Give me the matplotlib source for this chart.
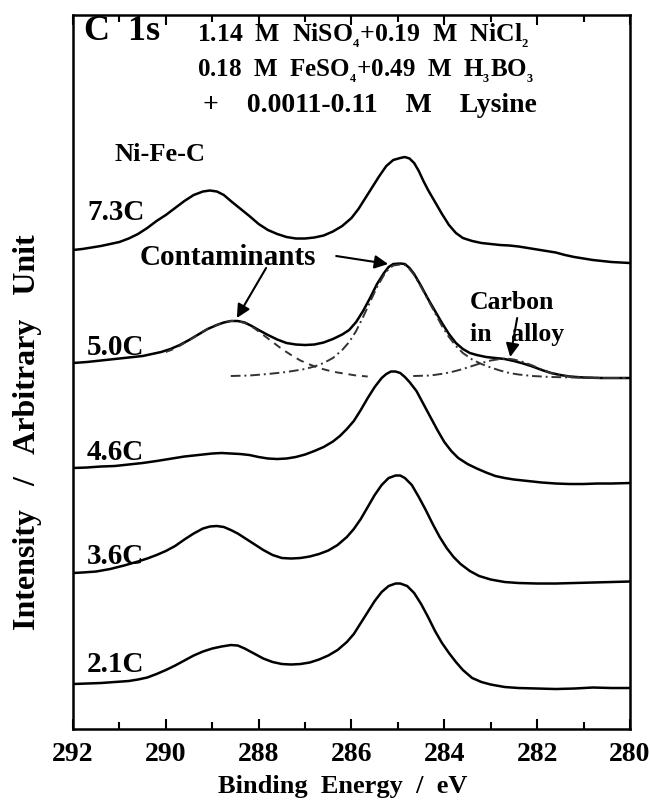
import numpy as np
import matplotlib
matplotlib.use("Agg")
import matplotlib.pyplot as plt
from matplotlib.ticker import MultipleLocator

plt.rcParams['font.family'] = ['Liberation Serif', 'DejaVu Serif']
plt.rcParams['font.weight'] = 'bold'
plt.rcParams['mathtext.fontset'] = 'custom'
plt.rcParams['mathtext.rm'] = 'Liberation Serif:bold'
plt.rcParams['mathtext.it'] = 'Liberation Serif:bold'
plt.rcParams['mathtext.bf'] = 'Liberation Serif:bold'

# C 1s spectra, stacked with vertical offsets (arbitrary units)
be_73 = [292.0, 291.8, 291.6, 291.4, 291.2, 291.0, 290.8, 290.6, 290.4, 290.2, 290.0,
         289.8, 289.6, 289.4, 289.2, 289.05, 288.9, 288.75, 288.6, 288.4, 288.2, 288.0,
         287.8, 287.6, 287.4, 287.2, 287.0, 286.8, 286.6, 286.4, 286.2, 286.0, 285.85,
         285.7, 285.55, 285.4, 285.25, 285.1, 284.95, 284.85, 284.75, 284.65, 284.55,
         284.45, 284.35, 284.2, 284.05, 283.9, 283.75, 283.6, 283.4, 283.2, 283.0, 282.8,
         282.6, 282.4, 282.2, 282.0, 281.8, 281.6, 281.4, 281.2, 281.0, 280.8, 280.6,
         280.4, 280.2, 280.0]
int_73 = [479, 480, 481.5, 483, 485, 487, 490.5, 495, 501, 508, 514,
          521, 528, 534, 537.5, 538.5, 537.5, 534, 528, 520.5, 513, 505,
          499, 495, 492, 490.5, 490.5, 491.5, 493.5, 497.5, 503, 511, 520,
          531, 542, 553, 563, 569, 571, 572, 570.5, 566, 558,
          548, 539, 527, 515, 504, 496, 491, 488, 486, 485, 484,
          483.5, 482.5, 481, 479.5, 478, 476.5, 474, 472, 470.5, 469, 468,
          467, 466.5, 466]

be_50 = [292.0, 291.7, 291.4, 291.1, 290.8, 290.5, 290.3, 290.1, 289.9, 289.7, 289.5,
         289.3, 289.1, 288.9, 288.75, 288.6, 288.45, 288.3, 288.15, 288.0, 287.8, 287.6,
         287.4, 287.2, 287.0, 286.8, 286.6, 286.4, 286.2, 286.05, 285.9, 285.75, 285.6,
         285.45, 285.3, 285.2, 285.1, 284.95, 284.85, 284.75, 284.65, 284.5, 284.35,
         284.2, 284.05, 283.9, 283.75, 283.6, 283.45, 283.3, 283.1, 282.9, 282.7, 282.5,
         282.3, 282.1, 281.9, 281.7, 281.5, 281.3, 281.0, 280.6, 280.0]
int_50 = [366, 367, 368.5, 370, 371.5, 373, 375, 377, 380, 384, 389,
          394.5, 400, 404, 406.5, 408, 408, 406.5, 403, 399, 394, 389.5,
          386, 384.5, 384, 384.5, 386.5, 390, 394.5, 399, 407, 418, 431,
          445, 456, 462, 465, 465.5, 465, 461, 455, 443, 430,
          418, 406, 395, 386, 380, 376, 374, 372, 371, 370, 368,
          365.5, 362.5, 359, 356, 354, 352.5, 351.5, 351, 351]

# peak-fit components of the 5.0C spectrum
be_fit1 = [290.0, 289.8, 289.6, 289.4, 289.2, 289.0, 288.8, 288.6, 288.45, 288.3, 288.1,
           287.9, 287.7, 287.5, 287.3, 287.1, 286.9, 286.7, 286.5, 286.3, 286.1, 285.9,
           285.65]
int_fit1 = [377, 380.5, 386, 391.5, 397.5, 402.5, 406, 408, 408, 406, 401,
            394, 387, 380, 374, 368.5, 364.5, 361, 358.5, 356.5, 355, 353.5,
            352.5]
be_fit2 = [288.6, 288.2, 287.8, 287.4, 287.0, 286.8, 286.6, 286.4, 286.2, 286.05, 285.9,
           285.75, 285.6, 285.45, 285.3, 285.2, 285.1, 284.95, 284.85, 284.75, 284.65,
           284.5, 284.35, 284.2, 284.05, 283.9, 283.75, 283.6, 283.4, 283.2, 283.0, 282.8,
           282.6, 282.4, 282.1, 281.7, 281.2, 280.6, 280.1]
int_fit2 = [353, 353.5, 355, 357, 360, 362.5, 366, 371, 379, 387, 398,
            412, 427, 442, 454, 460, 463.5, 464.5, 464, 460, 454,
            442, 429, 416, 403, 392, 383, 376, 369.5, 365, 361.5, 358.5,
            356, 354.5, 353, 352, 351.5, 351, 351]
be_fit3 = [284.67, 284.3, 284.0, 283.8, 283.6, 283.4, 283.2, 283.0, 282.8, 282.65, 282.5,
           282.3, 282.1, 281.9, 281.7, 281.5, 281.3, 281.0, 280.5, 280.1]
int_fit3 = [353, 353.5, 355.5, 357.5, 360, 363, 366, 368.5, 370, 370.5, 369.5,
            367, 363.5, 359.5, 356, 353.5, 352.5, 351.5, 351, 351]

be_46 = [292.0, 291.7, 291.4, 291.1, 290.8, 290.5, 290.2, 290.0, 289.8, 289.6, 289.4,
         289.2, 289.0, 288.8, 288.6, 288.4, 288.2, 288.0, 287.8, 287.6, 287.4, 287.2,
         287.0, 286.8, 286.6, 286.4, 286.25, 286.1, 285.95, 285.8, 285.65, 285.5, 285.35,
         285.25, 285.15, 285.05, 284.95, 284.85, 284.75, 284.6, 284.45, 284.3, 284.15,
         284.0, 283.85, 283.7, 283.5, 283.3, 283.1, 282.9, 282.7, 282.5, 282.2, 281.9,
         281.6, 281.3, 281.0, 280.7, 280.4, 280.0]
int_46 = [261, 261.5, 262.5, 263, 264.5, 266, 268, 269.5, 271, 272.5, 273.5,
          274.5, 275.5, 276, 275.5, 275, 274, 272, 270.5, 270, 270.5, 272,
          274.5, 278, 282, 287.5, 293, 300, 308, 319, 331, 342, 351,
          355, 357.5, 357.5, 356, 352, 347, 338, 325, 312, 299,
          287, 278, 271, 265, 260.5, 256.5, 253, 251, 249.5, 248, 246.5,
          245.5, 245, 245, 245.5, 245.5, 246]

be_36 = [292.0, 291.8, 291.5, 291.2, 290.9, 290.6, 290.4, 290.2, 290.0, 289.8, 289.6,
         289.4, 289.2, 289.05, 288.9, 288.75, 288.6, 288.45, 288.3, 288.1, 287.9, 287.7,
         287.5, 287.3, 287.1, 286.9, 286.7, 286.5, 286.3, 286.1, 285.95, 285.8, 285.65,
         285.5, 285.35, 285.2, 285.05, 284.95, 284.85, 284.7, 284.55, 284.4, 284.25,
         284.1, 283.95, 283.8, 283.65, 283.45, 283.25, 283.0, 282.7, 282.4, 282.0, 281.6,
         281.2, 280.8, 280.4, 280.0]
int_36 = [156, 156.5, 157.5, 160, 163.5, 167.5, 170.5, 174, 178, 183, 189.5,
          195.5, 200.5, 202.5, 203, 202, 199, 195.5, 191, 185, 179, 174,
          171, 170.5, 171, 172.5, 175, 178.5, 184, 192, 200, 210, 222,
          234, 244, 251, 253.5, 253.5, 251, 244, 232, 219, 205,
          192, 181, 172, 165, 158, 153, 149.5, 147, 146, 145.5, 145.5,
          146, 146.5, 147, 147.5]

be_21 = [292.0, 291.7, 291.4, 291.1, 290.8, 290.6, 290.4, 290.2, 290.0, 289.8, 289.6,
         289.4, 289.2, 289.0, 288.8, 288.6, 288.45, 288.3, 288.1, 287.9, 287.7, 287.5,
         287.3, 287.1, 286.9, 286.7, 286.5, 286.3, 286.1, 285.95, 285.8, 285.65, 285.5,
         285.35, 285.2, 285.05, 284.95, 284.8, 284.65, 284.5, 284.35, 284.2, 284.05,
         283.9, 283.75, 283.6, 283.4, 283.2, 283.0, 282.7, 282.4, 282.0, 281.6, 281.2,
         280.8, 280.4, 280.0]
int_21 = [45, 45.5, 46, 47, 48, 49.5, 51.5, 55, 59, 63.5, 68.5,
          73.5, 77.5, 80.5, 82.5, 84, 83.5, 80.5, 75.5, 70.5, 67, 65,
          64.5, 65, 66.5, 69.5, 73.5, 79, 87, 95, 106, 117, 128,
          137, 143, 145.5, 145.5, 143, 136, 125, 112, 98, 86,
          76, 67, 59, 51, 47, 44.5, 42, 41, 40.5, 40, 40.5,
          41.5, 41, 41]

spectra = [(be_73, int_73), (be_50, int_50), (be_46, int_46), (be_36, int_36), (be_21, int_21)]
charges = ['7.3C', '5.0C', '4.6C', '3.6C', '2.1C']
label_y = [0.724, 0.535, 0.387, 0.241, 0.090]

fig = plt.figure(figsize=(6.5, 8.02), dpi=100)
ax = fig.add_axes([0.1123, 0.0910, 0.8569, 0.8903])

for be, inten in spectra:
    ax.plot(be, inten, color='black', lw=1.8)

ax.plot(be_fit1, int_fit1, color='#333333', lw=1.4, ls=(0, (4, 3)))
ax.plot(be_fit2, int_fit2, color='#333333', lw=1.4, ls=(0, (5, 2, 1, 2)))
ax.plot(be_fit3, int_fit3, color='#333333', lw=1.4, ls=(0, (5, 2, 1, 2)))

for name, yy in zip(charges, label_y):
    ax.text(0.025, yy, name, transform=ax.transAxes, fontsize=21, va='center', ha='left')

ax.text(0.0754, 0.804, 'Ni-Fe-C', transform=ax.transAxes, fontsize=19, va='center')
ax.text(0.02, 0.977, 'C  1s', transform=ax.transAxes, fontsize=26, va='center')
ax.text(0.2226, 0.962, '1.14  M  NiSO$_{_4}$+0.19  M  NiCl$_{_2}$', transform=ax.transAxes,
        fontsize=18.5, va='baseline')
ax.text(0.2226, 0.913, '0.18  M  FeSO$_{_4}$+0.49  M  H$_{_3}$BO$_{_3}$', transform=ax.transAxes,
        fontsize=18, va='baseline')
ax.text(0.233, 0.864, '+    0.0011-0.11    M    Lysine', transform=ax.transAxes,
        fontsize=20, va='baseline')

ax.text(0.120, 0.661, 'Contaminants', transform=ax.transAxes, fontsize=21, va='center')
ax.text(0.713, 0.598, 'Carbon', transform=ax.transAxes, fontsize=18.5, va='center')
ax.text(0.713, 0.552, 'in   alloy', transform=ax.transAxes, fontsize=18.5, va='center')

arrow = dict(arrowstyle='-|>', color='black', lw=1.5, mutation_scale=20,
             shrinkA=0, shrinkB=0)
ax.annotate('', xy=(288.47, 411), xytext=(287.84, 461), arrowprops=arrow)
ax.annotate('', xy=(285.21, 465), xytext=(286.33, 473), arrowprops=arrow)
ax.annotate('', xy=(282.58, 372), xytext=(282.43, 411), arrowprops=arrow)

ax.set_xlim(292, 280)
ax.set_ylim(0, 714)
ax.set_yticks([])
ax.xaxis.set_major_locator(MultipleLocator(2))
ax.xaxis.set_minor_locator(MultipleLocator(1))
ax.tick_params(axis='x', which='both', direction='in', top=True, labelsize=20, pad=9)
ax.tick_params(axis='x', which='major', length=7.5, width=1.5)
ax.tick_params(axis='x', which='minor', length=5, width=1.5)
for sp in ax.spines.values():
    sp.set_linewidth(1.8)

ax.set_xlabel('Binding  Energy  /  eV', fontsize=19, fontweight='bold')
ax.xaxis.set_label_coords(0.485, -0.064)
fig.text(0.043, 0.461, 'Intensity   /   Arbitrary   Unit', rotation=90, fontsize=23,
         ha='center', va='center')

fig.savefig('out.png', dpi=100)
